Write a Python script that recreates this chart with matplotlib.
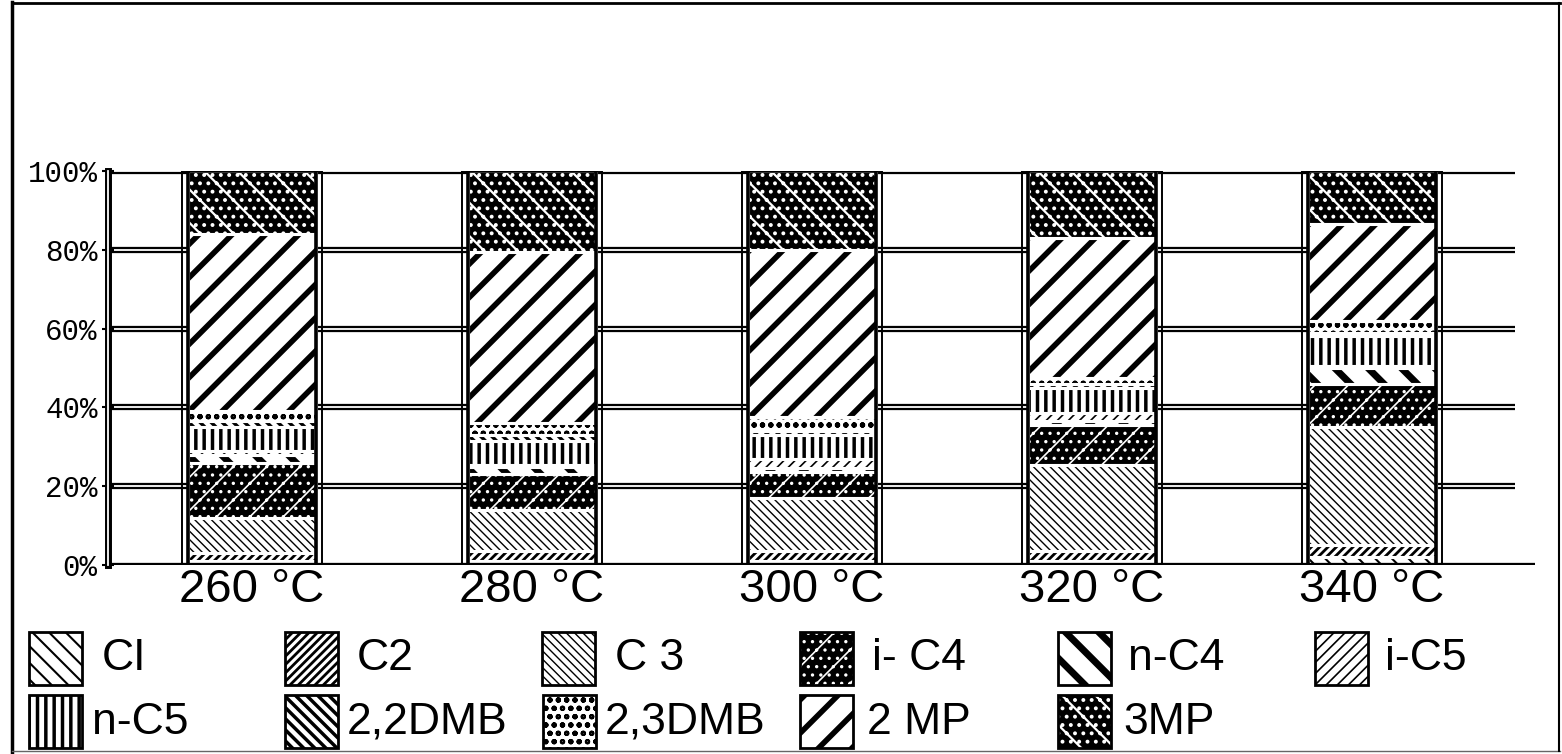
import matplotlib
matplotlib.use('Agg')
import matplotlib.pyplot as plt
from matplotlib.patches import Rectangle
from matplotlib.lines import Line2D

# product distribution (% of hydrocarbons) at each reaction temperature
temps = ['260 °C', '280 °C', '300 °C', '320 °C', '340 °C']
c1 = [1, 1, 1, 1, 2]
c2 = [2, 2.5, 2.5, 2.5, 3]
c3 = [9, 10.5, 13.5, 22, 30]
i_c4 = [14, 9, 6.5, 10, 11]
n_c4 = [2, 2, 1, 1, 4]
i_c5 = [1, 0.5, 2.5, 2, 0.5]
n_c5 = [6, 6, 6, 6.5, 7.5]
dmb22 = [1.5, 1.5, 1, 1, 1]
dmb23 = [2.5, 3, 3.5, 1.5, 3]
mp2 = [45, 43.5, 42.5, 35.5, 24.5]
mp3 = [16, 20.5, 20, 17, 13.5]

labels = ['CI', 'C2', 'C 3', 'i- C4', 'n-C4', 'i-C5',
          'n-C5', '2,2DMB', '2,3DMB', '2 MP', '3MP']
series = [c1, c2, c3, i_c4, n_c4, i_c5, n_c5, dmb22, dmb23, mp2, mp3]

# fill colour, hatch colour, hatch, hatch line width
styles = [
    ('white', 'black', '\\\\', 1.5),
    ('white', 'black', '////', 2.0),
    ('white', 'black', '\\\\\\\\', 1.0),
    ('black', 'white', '/..', 1.2),
    ('white', 'black', '\\', 5.0),
    ('white', 'black', '///', 1.2),
    ('white', 'black', '||', 2.5),
    ('white', 'black', '\\\\\\', 2.5),
    ('white', 'black', 'oo', 1.5),
    ('white', 'black', '/', 4.0),
    ('black', 'white', '\\..', 1.6),
]

W, H = 1562, 754


def fx(x):
    return x / W


def fy(y):
    return 1 - y / H


def hatched(xy, w, h, style, **kw):
    face, hcol, hatch, hlw = style
    with plt.rc_context({'hatch.linewidth': hlw}):
        p = Rectangle(xy, w, h, facecolor=face, edgecolor=hcol,
                      hatch=hatch, linewidth=0, **kw)
    if hasattr(p, 'set_hatch_linewidth'):
        p.set_hatch_linewidth(hlw)
    return p


fig = plt.figure(figsize=(W / 100, H / 100), dpi=100)
ax = fig.add_axes([fx(108), fy(565), fx(1535) - fx(108), (565 - 171) / H])
ax.set_xlim(-0.514, 4.582)
ax.set_ylim(0, 100)

for s in ax.spines.values():
    s.set_visible(False)

# double grid lines, stopped short of the right end of the base line
for g in [20, 40, 60, 80, 100]:
    ax.hlines(g, -0.514, 4.511, color='black', lw=4.5, zorder=1)
    ax.hlines(g, -0.514, 4.511, color='white', lw=1.3, zorder=1.1)
ax.axhline(0, color='black', lw=3.8, zorder=5)
ax.axvline(-0.514, color='black', lw=5, zorder=5, clip_on=False)
ax.axvline(-0.514, color='white', lw=1.3, zorder=5.1, clip_on=False)

bw = 0.46
for i in range(len(temps)):
    bottom = 0
    for vals, st in zip(series, styles):
        v = vals[i]
        ax.add_patch(hatched((i - bw / 2, bottom), bw, v, st, zorder=2))
        ax.add_patch(Rectangle((i - bw / 2, bottom), bw, v, fill=False,
                               edgecolor='white', lw=2.2, zorder=2.5))
        bottom += v
    ax.add_patch(Rectangle((i - bw / 2, 0), bw, bottom, fill=False,
                           edgecolor='black', lw=2.6, zorder=3))
    ax.add_patch(Rectangle((i - 0.25, 0), 0.5, bottom, fill=False,
                           edgecolor='black', lw=1.4, zorder=3))

ax.set_xticks(range(len(temps)))
ax.set_xticklabels(temps, fontsize=34, family='Liberation Sans')
ax.tick_params(axis='x', length=0, pad=2)
ax.set_yticks([0, 20, 40, 60, 80, 100])
ax.set_yticklabels(['0%', '20%', '40%', '60%', '80%', '100%'],
                   fontsize=21, family='Liberation Mono')
ax.tick_params(axis='y', direction='inout', length=9, width=1.5, pad=3)

# legend drawn as two rows of swatches
box_x = [[29, 285, 542, 800, 1058, 1315], [29, 285, 543, 800, 1058]]
text_x = [[102, 357, 615, 872, 1128, 1385], [92, 347, 605, 867, 1123]]
box_y = [632, 695]
k = 0
for r in range(2):
    for bx, tx in zip(box_x[r], text_x[r]):
        y0 = box_y[r]
        sw = hatched((fx(bx), fy(y0 + 53)), 53 / W, 53 / H, styles[k],
                     transform=fig.transFigure)
        fig.add_artist(sw)
        fig.add_artist(Rectangle((fx(bx), fy(y0 + 53)), 53 / W, 53 / H,
                                 fill=False, edgecolor='black', lw=2,
                                 transform=fig.transFigure))
        fig.text(fx(tx), fy(y0 + 27), labels[k], fontsize=32,
                 family='Liberation Sans', va='center', ha='left')
        k += 1

# outer frame
fig.add_artist(Line2D([fx(12), fx(12)], [fy(2), fy(752)], color='black',
                      lw=2.5, transform=fig.transFigure))
fig.add_artist(Line2D([fx(12), fx(1560)], [fy(3), fy(3)], color='black',
                      lw=2, transform=fig.transFigure))
fig.add_artist(Line2D([fx(12), fx(1560)], [fy(751), fy(751)], color='0.4',
                      lw=1, transform=fig.transFigure))
fig.add_artist(Line2D([fx(1559), fx(1559)], [fy(3), fy(751)], color='black',
                      lw=1.5, transform=fig.transFigure))

fig.savefig('out.png', dpi=100)
